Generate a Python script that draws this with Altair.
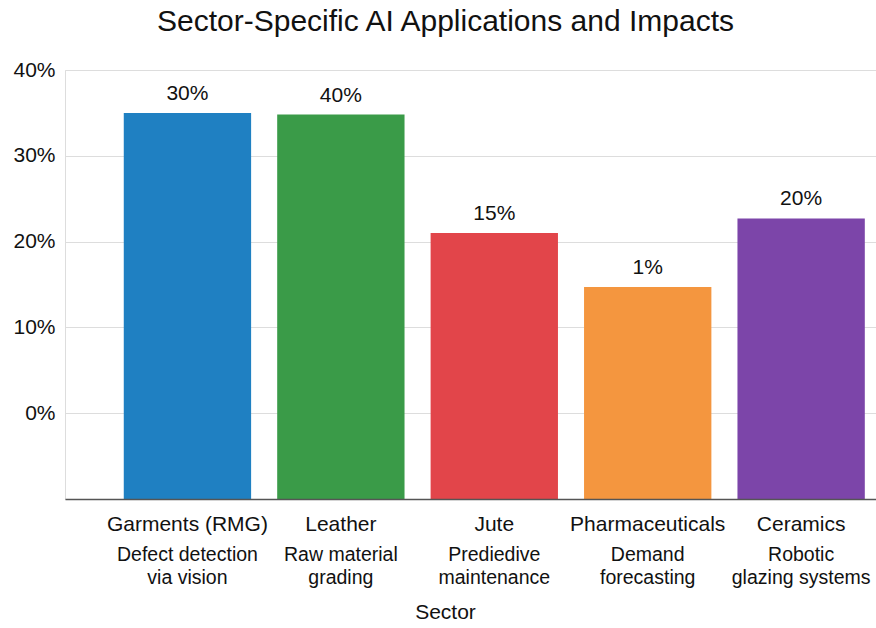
import altair as alt
import pandas as pd

sectors = ["Garments (RMG)", "Leather", "Jute", "Pharmaceuticals", "Ceramics"]
applications = ["Defect detection\nvia vision", "Raw material\ngrading",
                "Prediedive\nmaintenance", "Demand\nforecasting",
                "Robotic\nglazing systems"]
bar_values = [35.0, 34.8, 21.0, 14.7, 22.7]
value_labels = ["30%", "40%", "15%", "1%", "20%"]
colors = ["#1F80C2", "#3A9B48", "#E2454A", "#F4963F", "#7C45A9"]
y_ticks = [0, 10, 20, 30, 40]
y_floor = -10

df = pd.DataFrame({
    "Sector": sectors,
    "App": applications,
    "Value": bar_values,
    "Label": value_labels,
    "Color": colors,
    "Floor": [y_floor] * len(sectors),
})

FONT = "Liberation Sans"
W, H = 811, 429

x = alt.X(
    "Sector:N", sort=sectors,
    scale=alt.Scale(paddingInner=0.17, paddingOuter=0.228, align=0.84),
    axis=alt.Axis(title="Sector", labelAngle=0, labelFontSize=21, labelFont=FONT,
                  labelColor="#111", labelPadding=14, ticks=False,
                  domainColor="#555", domainWidth=1.5, zindex=1,
                  titleFontSize=21, titleFont=FONT, titleFontWeight="normal",
                  titleColor="#111", titleX=380, titleY=113, titleAnchor="middle",
                  titleBaseline="middle"),
)
y = alt.Y(
    "Value:Q",
    scale=alt.Scale(domain=[y_floor, 40], nice=False, zero=False),
    axis=alt.Axis(title=None, values=y_ticks, labelExpr="datum.value + '%'",
                  labelFontSize=21, labelFont=FONT, labelColor="#111",
                  labelPadding=10, ticks=False, domain=False,
                  gridColor="#DDDDDD", gridWidth=1),
)

base = alt.Chart(df)

bars = base.mark_bar().encode(
    x=x, y=y, y2="Floor:Q",
    color=alt.Color("Color:N", scale=None),
)

labels = base.mark_text(baseline="bottom", dy=-9, fontSize=21, font=FONT, color="#111").encode(
    x=alt.X("Sector:N", sort=sectors), y="Value:Q", text="Label:N"
)

apps = base.mark_text(baseline="top", align="center", dy=47, fontSize=19.5, font=FONT,
                      color="#111", lineBreak="\n", lineHeight=23).encode(
    x=alt.X("Sector:N", sort=sectors), y=alt.value(H), text="App:N"
)

chart = alt.layer(bars, labels, apps).properties(
    width=W, height=H,
    title=alt.TitleParams("Sector-Specific AI Applications and Impacts", fontSize=30,
                          font=FONT, fontWeight="normal", color="#111",
                          anchor="middle", dx=-25, offset=22),
    padding={"left": 65, "top": 70, "right": 0, "bottom": 129},
    autosize=alt.AutoSizeParams(type="none"),
).configure_view(stroke=None).configure(background="white")

chart.save("out.html", embed_options={"renderer": "svg", "actions": False})
